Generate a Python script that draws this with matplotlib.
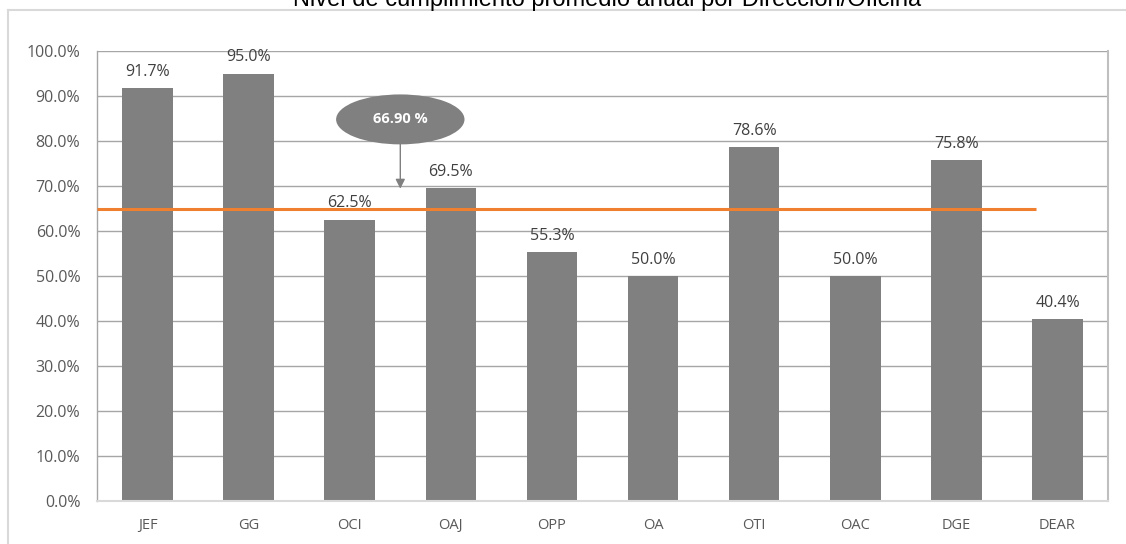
import numpy as np
import matplotlib.pyplot as plt
from matplotlib.patches import Ellipse
from matplotlib.lines import Line2D

# Data
categories = ['JEF', 'GG', 'OCI', 'OAJ', 'OPP', 'OA', 'OTI', 'OAC', 'DGE', 'DEAR']
values = [91.7, 95.0, 62.5, 69.5, 55.3, 50.0, 78.6, 50.0, 75.8, 40.4]
target = 65.0
callout_text = '66.90 %'
title = 'Nivel de cumplimiento promedio anual por Dirección/Oficina'

W, H = 1126, 544
fig = plt.figure(figsize=(W / 100, H / 100), dpi=100)
ax = fig.add_axes([97 / W, (H - 501) / H, (1108 - 97) / W, (501 - 51) / H])

x = np.arange(len(categories))
bars = ax.bar(x, values, width=0.5, color='#808080', zorder=2)

# data labels
for xi, v in zip(x, values):
    ax.annotate(f'{v:.1f}%', (xi, v), xytext=(0, 6), textcoords='offset points',
                ha='center', va='bottom', fontsize=11.5, color='#404040',
                family='Open Sans', zorder=4)

# orange reference line
ax.plot([-0.5, 8.79], [target, target], color='#F07F2F', lw=2.2, zorder=3,
        solid_capstyle='butt')

# callout ellipse with arrow
ax.add_patch(Ellipse((2.5, 84.8), 1.27, 11.1, facecolor='#808080',
                     edgecolor='none', zorder=5))
ax.text(2.5, 84.8, callout_text, ha='center', va='center', color='white',
        fontsize=10.5, fontweight='bold', family='Open Sans', zorder=6)
ax.annotate('', xy=(2.5, 69.4), xytext=(2.5, 79.3),
            arrowprops=dict(arrowstyle='-|>', color='#808080', lw=1,
                            mutation_scale=14, shrinkA=0, shrinkB=0), zorder=5)

ax.set_xlim(-0.5, len(categories) - 0.5)
ax.set_ylim(0, 100)
ax.set_yticks(np.arange(0, 101, 10))
ax.set_yticklabels([f'{t:.1f}%' for t in np.arange(0, 101, 10)])
ax.set_xticks(x)
ax.set_xticklabels(categories)
ax.tick_params(axis='both', length=0, colors='#595959')
ax.tick_params(axis='x', pad=12, labelsize=10.5)
ax.tick_params(axis='y', pad=12, labelsize=11.5)
for lab in ax.get_xticklabels() + ax.get_yticklabels():
    lab.set_family('Open Sans')

ax.grid(axis='y', color='#a6a6a6', lw=1, zorder=0)
ax.set_axisbelow(True)
ax.spines['top'].set_visible(False)
ax.spines['left'].set_color('#a6a6a6')
ax.spines['left'].set_linewidth(1)
ax.spines['bottom'].set_color('#d9d9d9')
ax.spines['bottom'].set_linewidth(1.5)
ax.spines['right'].set_color('#bfbfbf')
ax.spines['right'].set_linewidth(1.5)

# outer chart frame (partially visible)
fig.add_artist(Line2D([8 / W, 1], [1 - 10 / H, 1 - 10 / H], color='#d9d9d9', lw=1.5))
fig.add_artist(Line2D([8 / W, 8 / W], [0, 1 - 10 / H], color='#d9d9d9', lw=1.5))

# title, cut off at the top like the reference
fig.text(607 / W, 1 - 6 / H, title, ha='center', va='baseline',
         fontsize=17, family='Liberation Sans', color='#000000')

fig.savefig('out.png', dpi=100)
